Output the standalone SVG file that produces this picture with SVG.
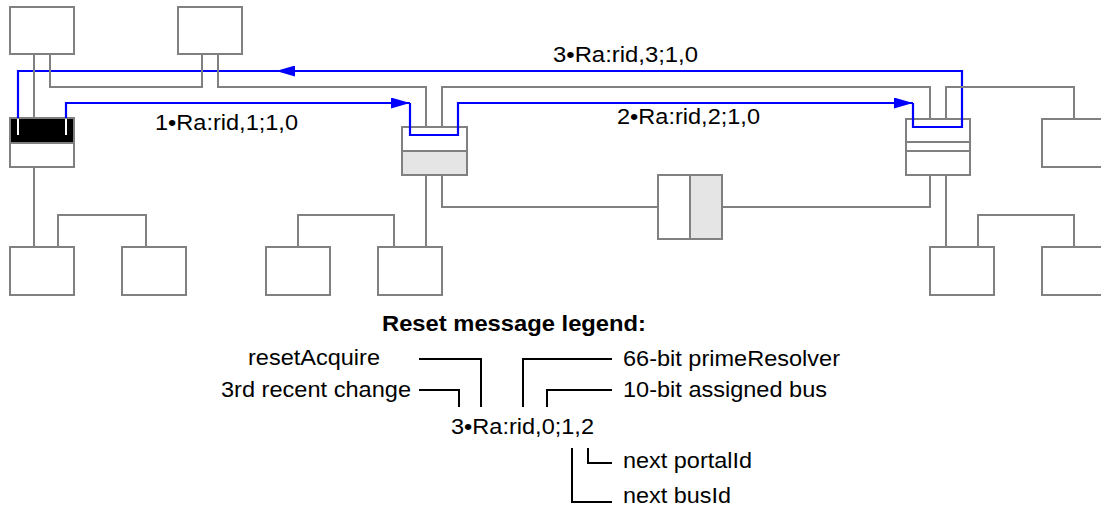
<svg xmlns="http://www.w3.org/2000/svg" width="1101" height="511" viewBox="0 0 1101 511">
  <style>
    .box { fill: #ffffff; stroke: #808080; stroke-width: 2; }
    .shade { fill: #e5e5e5; stroke: #808080; stroke-width: 2; }
    .div { fill: none; stroke: #808080; stroke-width: 2; }
    .link { fill: none; stroke: #808080; stroke-width: 2; }
    .msg { fill: none; stroke: #0000ff; stroke-width: 2.2; }
    .lead { fill: none; stroke: #000000; stroke-width: 2; }
    text { font-family: "Liberation Sans", Arial, Helvetica, sans-serif; font-size: 22px; fill: #000000; }
    .title { font-weight: bold; }
  </style>
  <defs>
    <marker id="arrow" markerUnits="userSpaceOnUse" markerWidth="19" markerHeight="11" refX="19" refY="5.5" orient="auto">
      <path d="M0,0 L19,5.5 L0,11 Z" fill="#0000ff"/>
    </marker>
  </defs>

  <!-- upper hosts -->
  <g id="host-top-1"><rect class="box" x="10" y="7" width="64" height="47"/></g>
  <g id="host-top-2"><rect class="box" x="178" y="7" width="64" height="47"/></g>
  <g id="host-right-top"><rect class="box" x="1042" y="119" width="70" height="48"/></g>

  <!-- bridges -->
  <g id="bridge-a">
    <rect class="box" x="10" y="118" width="64" height="49"/>
    <rect x="10" y="118" width="64" height="25" fill="#000000" stroke="#808080" stroke-width="2"/>
  </g>
  <g id="bridge-b">
    <rect class="box" x="402" y="127" width="65" height="48"/>
    <rect class="shade" x="402" y="151" width="65" height="24"/>
  </g>
  <g id="bridge-c">
    <rect class="box" x="906" y="119" width="64" height="56"/>
    <path class="div" d="M906,142 H970 M906,151 H970"/>
  </g>
  <g id="bus-box">
    <rect class="box" x="658" y="175" width="64" height="64"/>
    <rect class="shade" x="690" y="175" width="32" height="64"/>
  </g>

  <!-- lower hosts -->
  <g id="host-low-1"><rect class="box" x="10" y="247" width="64" height="48"/></g>
  <g id="host-low-2"><rect class="box" x="122" y="247" width="64" height="48"/></g>
  <g id="host-low-3"><rect class="box" x="266" y="247" width="64" height="48"/></g>
  <g id="host-low-4"><rect class="box" x="378" y="247" width="64" height="48"/></g>
  <g id="host-low-5"><rect class="box" x="930" y="247" width="64" height="48"/></g>
  <g id="host-low-6"><rect class="box" x="1042" y="247" width="70" height="48"/></g>

  <!-- reset messages -->
  <g id="messages">
    <path class="msg" d="M66,118 V103 H410" marker-end="url(#arrow)"/>
    <path class="msg" d="M410,103 V135 H458 V103 H913" marker-end="url(#arrow)"/>
    <path class="msg" d="M913,103 V127 H962 V71 H276" marker-end="url(#arrow)"/>
    <path class="msg" d="M277,71 H18 V118"/>
    <path d="M18,119 V135 M66,119 V135" fill="none" stroke="#ffffff" stroke-width="2"/>
    <text x="553" y="62" textLength="145" lengthAdjust="spacingAndGlyphs">3•Ra:rid,3;1,0</text>
    <text x="617" y="124" textLength="143" lengthAdjust="spacingAndGlyphs">2•Ra:rid,2;1,0</text>
    <text x="155" y="130" textLength="143" lengthAdjust="spacingAndGlyphs">1•Ra:rid,1;1,0</text>
  </g>

  <!-- links -->
  <g id="connectors">
    <path class="link" d="M34,54 V118"/>
    <path class="link" d="M50,54 V87 H202 V54"/>
    <path class="link" d="M218,54 V87 H426 V127"/>
    <path class="link" d="M442,127 V87 H930 V119"/>
    <path class="link" d="M946,119 V87 H1074 V119"/>
    <path class="link" d="M34,167 V247"/>
    <path class="link" d="M58,247 V215 H146 V247"/>
    <path class="link" d="M426,175 V247"/>
    <path class="link" d="M298,247 V215 H394 V247"/>
    <path class="link" d="M442,175 V207 H658"/>
    <path class="link" d="M722,207 H930 V175"/>
    <path class="link" d="M946,175 V247"/>
    <path class="link" d="M978,247 V215 H1074 V247"/>
  </g>

  <!-- legend -->
  <g id="legend">
    <text class="title" x="382" y="331" textLength="264" lengthAdjust="spacingAndGlyphs">Reset message legend:</text>
    <text x="248" y="365" textLength="132" lengthAdjust="spacingAndGlyphs">resetAcquire</text>
    <text x="221" y="397" textLength="190" lengthAdjust="spacingAndGlyphs">3rd recent change</text>
    <text x="451" y="434" textLength="143" lengthAdjust="spacingAndGlyphs">3•Ra:rid,0;1,2</text>
    <text x="623" y="366" textLength="217" lengthAdjust="spacingAndGlyphs">66-bit primeResolver</text>
    <text x="623" y="397" textLength="204" lengthAdjust="spacingAndGlyphs">10-bit assigned bus</text>
    <text x="623" y="468" textLength="129" lengthAdjust="spacingAndGlyphs">next portalId</text>
    <text x="623" y="503" textLength="108" lengthAdjust="spacingAndGlyphs">next busId</text>
    <path class="lead" d="M419,359 H481 V407"/>
    <path class="lead" d="M419,390 H459 V407"/>
    <path class="lead" d="M523,407 V359 H612"/>
    <path class="lead" d="M547,407 V390 H612"/>
    <path class="lead" d="M588,448 V463 H612"/>
    <path class="lead" d="M572,448 V502 H612"/>
  </g>
</svg>
